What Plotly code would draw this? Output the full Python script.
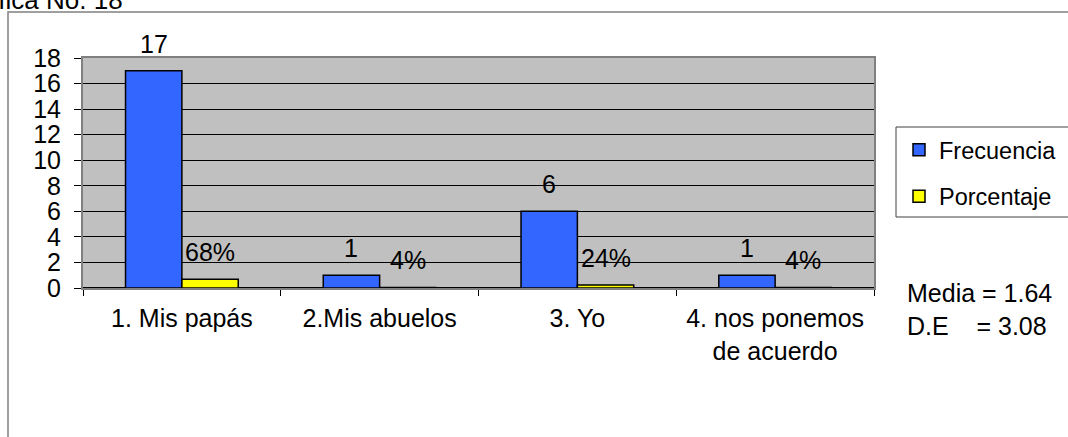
import plotly.graph_objects as go

categorias = ["1. Mis papás", "2.Mis abuelos", "3. Yo", "4. nos ponemos<br>de acuerdo"]
frecuencia = [17, 1, 6, 1]
porcentaje = [0.68, 0.04, 0.24, 0.04]
etiquetas_pct = ["68%", "4%", "24%", "4%"]
media = 1.64
desv = 3.08

FONT = "Arial, Liberation Sans, sans-serif"

# page pixels of the plot area (reference)
W, H = 1068, 437
L, R, T, B = 83, 874, 58, 288
BARGAP = 0.43


def px_x(p):
    return (p - L) / (R - L)


def px_y(p):
    return (B - p) / (B - T)


fig = go.Figure()
fig.add_trace(
    go.Bar(
        x=list(range(len(categorias))),
        y=frecuencia,
        name="Frecuencia",
        legendgroup="f",
        marker=dict(color="#3366FF", line=dict(color="black", width=1.5)),
    )
)
fig.add_trace(
    go.Bar(
        x=list(range(len(categorias))),
        y=porcentaje,
        name="Porcentaje",
        legendgroup="p",
        marker=dict(color="#FFFF00", line=dict(color="black", width=1.5)),
    )
)

# data labels, placed over each bar in data coordinates
half = (1 - BARGAP) / 4
for i, (f, p, t) in enumerate(zip(frecuencia, porcentaje, etiquetas_pct)):
    for xv, yv, txt in ((i - half, f, str(f)), (i + half, p, t)):
        fig.add_annotation(
            x=xv,
            y=yv,
            text=txt,
            xref="x",
            yref="y",
            xanchor="center",
            yanchor="bottom",
            yshift=11,
            showarrow=False,
            font=dict(size=25),
        )

fig.update_layout(
    width=W,
    height=H,
    margin=dict(l=L, r=W - R, t=T, b=H - B, pad=0, autoexpand=False),
    paper_bgcolor="white",
    plot_bgcolor="#C0C0C0",
    font=dict(family=FONT, size=25, color="black"),
    barmode="group",
    bargap=BARGAP,
    bargroupgap=0,
    showlegend=True,
    legend=dict(
        x=px_x(899),
        y=px_y(128),
        xanchor="left",
        yanchor="top",
        borderwidth=0,
        bgcolor="rgba(0,0,0,0)",
        font=dict(size=23.5),
        tracegroupgap=13,
        itemwidth=30,
    ),
)

fig.update_xaxes(
    tickmode="array",
    tickvals=list(range(len(categorias))),
    ticktext=categorias,
    range=[-0.5, len(categorias) - 0.5],
    showgrid=False,
    ticks="",
    showline=True,
    linecolor="#808080",
    linewidth=2,
    mirror=True,
    ticklabelstandoff=7,
    tickfont=dict(size=25),
    minor=dict(
        tickmode="array",
        tickvals=[i - 0.5 for i in range(len(categorias) + 1)],
        ticks="outside",
        ticklen=6,
        tickcolor="black",
        showgrid=False,
    ),
)
fig.update_yaxes(
    range=[0, 18],
    dtick=2,
    showgrid=True,
    gridcolor="black",
    gridwidth=1,
    zeroline=True,
    zerolinecolor="black",
    zerolinewidth=1.5,
    ticks="outside",
    ticklen=7,
    tickcolor="black",
    showline=True,
    linecolor="#808080",
    linewidth=2,
    mirror=True,
    ticklabelstandoff=8,
    tickfont=dict(size=25),
)

# outer chart frame (runs past the right and bottom edges)
fig.add_shape(
    type="rect",
    xref="paper",
    yref="paper",
    x0=px_x(8),
    x1=px_x(W + 40),
    y0=px_y(12),
    y1=px_y(H + 40),
    line=dict(color="#808080", width=1.5),
    fillcolor="rgba(0,0,0,0)",
    layer="below",
)
# legend box (its right side runs past the edge)
fig.add_shape(
    type="rect",
    xref="paper",
    yref="paper",
    x0=px_x(896),
    x1=px_x(W + 40),
    y0=px_y(127),
    y1=px_y(217),
    line=dict(color="#404040", width=1),
    fillcolor="white",
    layer="below",
)

# title, cut off at the top-left
fig.add_annotation(
    text="Gráfica No. 18",
    xref="paper",
    yref="paper",
    x=px_x(125),
    y=px_y(17),
    xanchor="right",
    yanchor="bottom",
    showarrow=False,
    font=dict(size=26),
)

fig.add_annotation(
    text=f"Media = {media:.2f}<br>D.E\u00a0\u00a0\u00a0\u00a0= {desv:.2f}",
    xref="paper",
    yref="paper",
    x=px_x(905),
    y=px_y(309),
    xanchor="left",
    yanchor="middle",
    align="left",
    showarrow=False,
    font=dict(size=25),
)

# figure at the window's corner, no page margin and no scrollbars
page_js = (
    "document.body.style.margin = '0';"
    "document.body.style.overflow = 'hidden';"
    "document.documentElement.style.overflow = 'hidden';"
)
fig.write_html("out.html", config={"displayModeBar": False}, post_script=page_js)
